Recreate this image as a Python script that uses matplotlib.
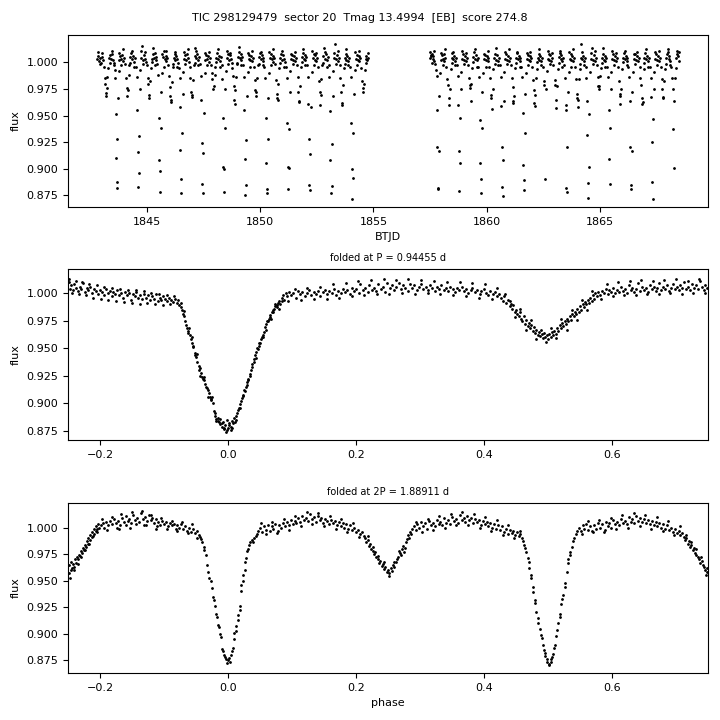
"""TESS light curve of TIC 298129479 (sector 20): raw flux plus folds at P and 2P.

Points below were read off the reference figure by eye, panel by panel.
"""

import matplotlib

matplotlib.use("Agg")

import matplotlib.pyplot as plt  # noqa: E402
import numpy as np  # noqa: E402

# --------------------------------------------------------------------------- #
# Data (BTJD, flux) -- first orbit of sector 20
# --------------------------------------------------------------------------- #

RAW_ORBIT1 = [
    (1842.81, 1.003), (1842.84, 1.006), (1842.88, 1.001), (1842.93, 1.004), (1842.97, 0.999),
    (1843.02, 1.005), (1843.06, 1.002), (1843.10, 0.996), (1843.15, 0.985), (1843.17, 0.980),
    (1843.19, 0.971), (1843.21, 0.968), (1843.23, 0.976), (1843.26, 0.986), (1843.30, 0.995),
    (1843.34, 1.004), (1843.38, 1.007), (1843.42, 1.003), (1843.46, 1.008), (1843.50, 1.002),
    (1843.55, 0.999), (1843.59, 0.993), (1843.61, 0.985), (1843.63, 0.951), (1843.65, 0.910),
    (1843.67, 0.882), (1843.69, 0.888), (1843.71, 0.928), (1843.73, 0.966),
    (1843.76, 0.992), (1843.80, 1.002), (1843.84, 1.006), (1843.88, 1.003), (1843.92, 1.007),
    (1843.96, 1.001), (1844.00, 1.004), (1844.04, 0.998), (1844.09, 0.985), (1844.12, 0.976),
    (1844.14, 0.968), (1844.17, 0.974), (1844.20, 0.988), (1844.24, 0.997), (1844.28, 1.005),
    (1844.32, 1.009), (1844.36, 1.003), (1844.40, 1.006), (1844.44, 1.000), (1844.48, 1.004),
    (1844.52, 0.996), (1844.56, 0.986), (1844.58, 0.955), (1844.60, 0.916), (1844.62, 0.883),
    (1844.64, 0.896), (1844.66, 0.931), (1844.69, 0.975),
    (1844.72, 0.993), (1844.76, 1.004), (1844.80, 1.015), (1844.84, 1.002), (1844.88, 1.007),
    (1844.92, 1.003), (1844.96, 1.000), (1845.00, 0.997), (1845.04, 0.985), (1845.07, 0.980),
    (1845.09, 0.969), (1845.12, 0.966), (1845.15, 0.982), (1845.19, 0.995), (1845.23, 1.003),
    (1845.27, 1.008), (1845.31, 1.004), (1845.35, 1.009), (1845.39, 1.002), (1845.43, 1.005),
    (1845.47, 0.998), (1845.50, 0.988), (1845.53, 0.948), (1845.55, 0.908), (1845.57, 0.878),
    (1845.59, 0.898), (1845.61, 0.938), (1845.64, 0.972),
    (1845.67, 0.990), (1845.71, 1.005), (1845.75, 1.011), (1845.79, 1.003), (1845.83, 1.006),
    (1845.87, 1.001), (1845.91, 1.004), (1845.95, 0.997), (1845.99, 0.987), (1846.01, 0.977),
    (1846.03, 0.968), (1846.05, 0.963), (1846.08, 0.965), (1846.11, 0.981), (1846.15, 0.996),
    (1846.19, 1.004), (1846.23, 1.008), (1846.27, 1.002), (1846.31, 1.006), (1846.35, 1.003),
    (1846.39, 0.999), (1846.43, 0.995), (1846.45, 0.985), (1846.47, 0.958), (1846.49, 0.918),
    (1846.51, 0.877), (1846.53, 0.890), (1846.55, 0.934), (1846.58, 0.970),
    (1846.61, 0.991), (1846.65, 1.003), (1846.69, 1.007), (1846.73, 1.002), (1846.77, 1.008),
    (1846.81, 1.004), (1846.85, 1.000), (1846.89, 0.996), (1846.93, 0.985), (1846.96, 0.972),
    (1846.98, 0.967), (1847.00, 0.969), (1847.03, 0.983), (1847.07, 0.997), (1847.11, 1.006),
    (1847.15, 1.013), (1847.19, 1.004), (1847.23, 1.008), (1847.27, 1.002), (1847.31, 1.005),
    (1847.35, 0.998), (1847.39, 0.987), (1847.41, 0.965), (1847.43, 0.924), (1847.45, 0.886),
    (1847.47, 0.877), (1847.49, 0.915), (1847.51, 0.952),
    (1847.55, 0.990), (1847.59, 1.002), (1847.63, 1.007), (1847.67, 1.003), (1847.71, 1.006),
    (1847.75, 1.000), (1847.79, 1.004), (1847.83, 0.997), (1847.87, 0.990), (1847.90, 0.984),
    (1847.93, 0.975), (1847.96, 0.978), (1847.99, 0.988), (1848.03, 0.996), (1848.07, 1.004),
    (1848.11, 1.009), (1848.15, 1.003), (1848.19, 1.006), (1848.23, 1.001), (1848.27, 1.005),
    (1848.31, 0.997), (1848.34, 0.984), (1848.36, 0.948), (1848.38, 0.902), (1848.40, 0.878),
    (1848.42, 0.900), (1848.44, 0.938), (1848.47, 0.975),
    (1848.50, 0.992), (1848.54, 1.004), (1848.58, 1.008), (1848.62, 1.002), (1848.66, 1.007),
    (1848.70, 1.003), (1848.74, 0.999), (1848.78, 0.995), (1848.82, 0.987), (1848.84, 0.978),
    (1848.86, 0.965), (1848.88, 0.961), (1848.91, 0.974), (1848.94, 0.986), (1848.98, 0.998),
    (1849.02, 1.005), (1849.06, 1.010), (1849.10, 1.004), (1849.14, 1.008), (1849.18, 1.002),
    (1849.22, 1.005), (1849.26, 0.997), (1849.28, 0.986), (1849.31, 0.955), (1849.33, 0.909),
    (1849.35, 0.875), (1849.37, 0.885), (1849.39, 0.927), (1849.42, 0.968),
    (1849.45, 0.991), (1849.49, 1.003), (1849.53, 1.007), (1849.57, 1.002), (1849.61, 1.006),
    (1849.65, 1.001), (1849.69, 1.004), (1849.73, 0.996), (1849.77, 0.983), (1849.79, 0.974),
    (1849.82, 0.968), (1849.84, 0.972), (1849.87, 0.985), (1849.91, 0.997), (1849.95, 1.005),
    (1849.99, 1.009), (1850.03, 1.003), (1850.07, 1.007), (1850.11, 1.001), (1850.15, 1.004),
    (1850.19, 0.996), (1850.22, 0.985), (1850.25, 0.948), (1850.27, 0.905), (1850.29, 0.877),
    (1850.31, 0.881), (1850.33, 0.928), (1850.36, 0.966),
    (1850.39, 0.990), (1850.43, 1.004), (1850.47, 1.008), (1850.51, 1.003), (1850.55, 1.006),
    (1850.59, 1.000), (1850.63, 1.004), (1850.67, 0.998), (1850.71, 0.983), (1850.74, 0.970),
    (1850.76, 0.966), (1850.78, 0.965), (1850.81, 0.980), (1850.85, 0.995), (1850.89, 1.004),
    (1850.93, 1.008), (1850.97, 1.002), (1851.01, 1.007), (1851.05, 1.003), (1851.09, 1.000),
    (1851.13, 0.996), (1851.17, 0.985), (1851.20, 0.943), (1851.22, 0.902), (1851.24, 0.881),
    (1851.26, 0.901), (1851.28, 0.937), (1851.31, 0.972),
    (1851.34, 0.992), (1851.38, 1.003), (1851.42, 1.007), (1851.46, 1.002), (1851.50, 1.006),
    (1851.54, 1.001), (1851.58, 1.004), (1851.62, 0.997), (1851.66, 0.986), (1851.68, 0.972),
    (1851.71, 0.964), (1851.73, 0.963), (1851.76, 0.978), (1851.80, 0.996), (1851.84, 1.005),
    (1851.88, 1.009), (1851.92, 1.003), (1851.96, 1.007), (1852.00, 1.002), (1852.04, 1.005),
    (1852.08, 0.997), (1852.11, 0.986), (1852.13, 0.961), (1852.15, 0.928), (1852.17, 0.885),
    (1852.19, 0.880), (1852.21, 0.914), (1852.24, 0.958),
    (1852.28, 0.991), (1852.32, 1.004), (1852.36, 1.008), (1852.40, 1.002), (1852.44, 1.007),
    (1852.48, 1.001), (1852.52, 1.004), (1852.56, 0.996), (1852.59, 0.982), (1852.62, 0.972),
    (1852.65, 0.960), (1852.67, 0.969), (1852.70, 0.984), (1852.74, 0.997), (1852.78, 1.006),
    (1852.82, 1.013), (1852.86, 1.003), (1852.90, 1.008), (1852.94, 1.002), (1852.98, 1.005),
    (1853.02, 0.997), (1853.06, 0.986), (1853.08, 0.954), (1853.10, 0.908), (1853.13, 0.877),
    (1853.15, 0.884), (1853.17, 0.923), (1853.20, 0.968),
    (1853.23, 0.992), (1853.27, 1.004), (1853.31, 1.017), (1853.35, 1.003), (1853.39, 1.007),
    (1853.43, 1.001), (1853.47, 1.004), (1853.51, 0.997), (1853.54, 0.985), (1853.57, 0.972),
    (1853.60, 0.960), (1853.62, 0.962), (1853.65, 0.979), (1853.69, 0.995), (1853.73, 1.004),
    (1853.77, 1.008), (1853.81, 1.002), (1853.85, 1.006), (1853.89, 1.001), (1853.93, 1.004),
    (1853.97, 0.996), (1854.00, 0.986), (1854.02, 0.943), (1854.04, 0.900), (1854.07, 0.872),
    (1854.09, 0.891), (1854.11, 0.934), (1854.14, 0.970),
    (1854.18, 0.993), (1854.22, 1.003), (1854.26, 1.007), (1854.30, 1.002), (1854.34, 1.006),
    (1854.38, 1.001), (1854.42, 1.004), (1854.46, 0.995), (1854.49, 0.982), (1854.52, 0.976),
    (1854.54, 0.972), (1854.57, 0.980), (1854.61, 0.993), (1854.65, 1.003), (1854.69, 1.006),
    (1854.73, 1.002), (1854.77, 1.004),
]

# second orbit
RAW_ORBIT2 = [
    (1857.49, 1.004), (1857.52, 1.007), (1857.55, 1.006), (1857.58, 1.008), (1857.61, 1.003),
    (1857.64, 1.006), (1857.68, 1.001), (1857.72, 0.998), (1857.76, 0.993), (1857.78, 0.987),
    (1857.80, 0.955), (1857.82, 0.920), (1857.84, 0.882), (1857.86, 0.881), (1857.88, 0.917),
    (1857.90, 0.968),
    (1857.93, 0.990), (1857.97, 1.002), (1858.01, 1.007), (1858.05, 1.003), (1858.09, 1.008),
    (1858.13, 1.001), (1858.17, 1.004), (1858.21, 0.996), (1858.26, 0.984), (1858.29, 0.979),
    (1858.31, 0.966), (1858.33, 0.960), (1858.36, 0.975), (1858.40, 0.994), (1858.44, 1.004),
    (1858.48, 1.009), (1858.52, 1.003), (1858.56, 1.006), (1858.60, 1.001), (1858.64, 1.004),
    (1858.68, 0.997), (1858.72, 0.987), (1858.74, 0.960), (1858.76, 0.917), (1858.78, 0.879),
    (1858.80, 0.905), (1858.82, 0.948), (1858.85, 0.975),
    (1858.88, 0.991), (1858.92, 1.003), (1858.96, 1.008), (1859.00, 1.002), (1859.04, 1.006),
    (1859.08, 1.001), (1859.12, 1.004), (1859.16, 0.997), (1859.21, 0.985), (1859.24, 0.979),
    (1859.26, 0.976), (1859.28, 0.964), (1859.31, 0.980), (1859.35, 0.995), (1859.39, 1.005),
    (1859.43, 1.010), (1859.47, 1.003), (1859.51, 1.007), (1859.55, 1.002), (1859.59, 1.004),
    (1859.63, 0.996), (1859.67, 0.986), (1859.69, 0.946), (1859.71, 0.905), (1859.73, 0.877),
    (1859.75, 0.890), (1859.77, 0.938), (1859.80, 0.972),
    (1859.83, 0.990), (1859.87, 1.003), (1859.91, 1.007), (1859.95, 1.002), (1859.99, 1.006),
    (1860.03, 1.001), (1860.07, 1.004), (1860.11, 0.996), (1860.15, 0.985), (1860.18, 0.969),
    (1860.20, 0.966), (1860.22, 0.956), (1860.25, 0.975), (1860.29, 0.994), (1860.33, 1.004),
    (1860.37, 1.008), (1860.41, 1.002), (1860.45, 1.007), (1860.49, 1.001), (1860.53, 1.004),
    (1860.57, 0.997), (1860.61, 0.986), (1860.63, 0.959), (1860.65, 0.920), (1860.67, 0.883),
    (1860.69, 0.874), (1860.71, 0.908), (1860.74, 0.964),
    (1860.77, 0.991), (1860.81, 1.003), (1860.85, 1.008), (1860.89, 1.002), (1860.93, 1.006),
    (1860.97, 1.001), (1861.01, 1.004), (1861.05, 0.997), (1861.10, 0.985), (1861.13, 0.977),
    (1861.15, 0.964), (1861.17, 0.962), (1861.20, 0.968), (1861.24, 0.995), (1861.28, 1.004),
    (1861.32, 1.009), (1861.36, 1.003), (1861.40, 1.006), (1861.44, 1.001), (1861.48, 1.004),
    (1861.52, 0.996), (1861.56, 0.986), (1861.58, 0.952), (1861.60, 0.904), (1861.62, 0.880),
    (1861.64, 0.889), (1861.66, 0.934), (1861.69, 0.970),
    (1861.72, 0.990), (1861.76, 1.003), (1861.80, 1.007), (1861.84, 1.002), (1861.88, 1.006),
    (1861.92, 1.001), (1861.96, 1.004), (1862.00, 0.996), (1862.04, 0.983), (1862.07, 0.974),
    (1862.09, 0.962), (1862.11, 0.959), (1862.14, 0.969), (1862.17, 0.985), (1862.20, 0.994),
    (1862.24, 1.004), (1862.28, 1.008), (1862.32, 1.002), (1862.36, 1.006), (1862.40, 1.001),
    (1862.44, 1.004), (1862.48, 0.996), (1862.50, 0.982), (1862.53, 0.979), (1862.57, 0.890),
    (1862.61, 0.975),
    (1862.64, 0.992), (1862.68, 1.003), (1862.72, 1.008), (1862.76, 1.002), (1862.80, 1.007),
    (1862.84, 1.001), (1862.88, 1.004), (1862.92, 0.997), (1862.99, 0.983), (1863.01, 0.979),
    (1863.04, 0.965), (1863.06, 0.957), (1863.09, 0.978), (1863.13, 0.994), (1863.17, 1.005),
    (1863.21, 1.009), (1863.25, 1.003), (1863.29, 1.007), (1863.33, 1.001), (1863.37, 1.004),
    (1863.41, 0.997), (1863.45, 0.985), (1863.47, 0.960), (1863.49, 0.955), (1863.51, 0.882),
    (1863.53, 0.878), (1863.55, 0.920), (1863.58, 0.972),
    (1863.61, 0.991), (1863.65, 1.003), (1863.69, 1.008), (1863.73, 1.002), (1863.77, 1.006),
    (1863.81, 1.001), (1863.85, 1.004), (1863.89, 0.996), (1863.93, 0.984), (1863.96, 0.970),
    (1863.98, 0.966), (1864.00, 0.958), (1864.03, 0.965), (1864.06, 0.984), (1864.09, 0.994),
    (1864.13, 1.004), (1864.17, 1.017), (1864.21, 1.003), (1864.25, 1.006), (1864.29, 1.001),
    (1864.33, 1.004), (1864.37, 0.996), (1864.39, 0.985), (1864.41, 0.964), (1864.43, 0.932),
    (1864.45, 0.887), (1864.47, 0.8725), (1864.49, 0.902), (1864.52, 0.951),
    (1864.56, 0.991), (1864.60, 1.003), (1864.64, 1.013), (1864.68, 1.002), (1864.72, 1.007),
    (1864.76, 1.001), (1864.80, 1.004), (1864.84, 0.997), (1864.88, 0.986), (1864.91, 0.978),
    (1864.93, 0.975), (1864.96, 0.978), (1864.99, 0.987), (1865.03, 0.995), (1865.07, 1.004),
    (1865.11, 1.008), (1865.15, 1.002), (1865.19, 1.006), (1865.23, 1.001), (1865.27, 1.004),
    (1865.31, 0.996), (1865.34, 0.986), (1865.37, 0.955), (1865.39, 0.909), (1865.41, 0.886),
    (1865.43, 0.938), (1865.46, 0.975),
    (1865.49, 0.991), (1865.53, 1.003), (1865.57, 1.008), (1865.61, 1.002), (1865.65, 1.006),
    (1865.69, 1.001), (1865.73, 1.004), (1865.77, 0.996), (1865.82, 0.982), (1865.85, 0.970),
    (1865.87, 0.968), (1865.89, 0.961), (1865.92, 0.975), (1865.96, 0.994), (1866.00, 1.004),
    (1866.04, 1.009), (1866.08, 1.003), (1866.12, 1.006), (1866.16, 1.001), (1866.20, 1.004),
    (1866.24, 0.996), (1866.28, 0.986), (1866.31, 0.964), (1866.33, 0.920), (1866.35, 0.881),
    (1866.37, 0.885), (1866.39, 0.917), (1866.42, 0.972),
    (1866.45, 0.991), (1866.49, 1.003), (1866.53, 1.008), (1866.57, 1.002), (1866.61, 1.006),
    (1866.65, 1.001), (1866.69, 1.004), (1866.73, 0.996), (1866.77, 0.985), (1866.80, 0.979),
    (1866.82, 0.966), (1866.84, 0.961), (1866.87, 0.963), (1866.91, 0.994), (1866.95, 1.004),
    (1866.99, 1.009), (1867.03, 1.003), (1867.07, 1.006), (1867.11, 1.001), (1867.15, 1.004),
    (1867.19, 0.996), (1867.23, 0.985), (1867.25, 0.967), (1867.27, 0.925), (1867.29, 0.8875),
    (1867.31, 0.8716), (1867.33, 0.947), (1867.36, 0.975),
    (1867.39, 0.991), (1867.43, 1.003), (1867.47, 1.008), (1867.51, 1.002), (1867.55, 1.006),
    (1867.59, 1.001), (1867.63, 1.004), (1867.67, 0.996), (1867.71, 0.984), (1867.74, 0.975),
    (1867.76, 0.967), (1867.78, 0.966), (1867.81, 0.982), (1867.85, 0.994), (1867.89, 1.004),
    (1867.93, 1.008), (1867.97, 1.012), (1868.01, 1.003), (1868.05, 1.006), (1868.09, 1.001),
    (1868.13, 0.996), (1868.17, 0.985), (1868.19, 0.975), (1868.21, 0.937), (1868.23, 0.901),
    (1868.26, 0.964), (1868.28, 0.985), (1868.32, 0.995), (1868.36, 1.004), (1868.40, 1.008),
    (1868.44, 1.006), (1868.47, 1.010),
]

# out-of-eclipse points at the upper / lower edge of the raw band
RAW_BAND_EDGE = [
    (1842.86, 1.010), (1842.95, 0.998), (1843.04, 1.009), (1843.40, 0.999), (1843.48, 1.011),
    (1843.57, 0.997), (1843.80, 1.009), (1843.88, 0.997), (1843.97, 1.012), (1844.28, 0.999),
    (1844.35, 1.011), (1844.44, 0.996), (1844.74, 1.011), (1844.82, 0.998), (1844.91, 1.010),
    (1845.22, 1.000), (1845.29, 1.013), (1845.38, 0.997), (1845.69, 1.008), (1845.77, 0.996),
    (1845.86, 1.011), (1846.17, 0.998), (1846.24, 1.010), (1846.33, 0.996), (1846.63, 1.010),
    (1846.71, 0.998), (1846.80, 1.012), (1847.11, 0.999), (1847.18, 1.011), (1847.27, 0.997),
    (1847.58, 1.009), (1847.66, 0.997), (1847.75, 1.010), (1848.06, 1.000), (1848.13, 1.012),
    (1848.22, 0.996), (1848.52, 1.011), (1848.60, 0.998), (1848.69, 1.009), (1849.00, 0.999),
    (1849.07, 1.014), (1849.16, 0.997), (1849.47, 1.009), (1849.55, 0.996), (1849.64, 1.011),
    (1849.95, 0.998), (1850.02, 1.010), (1850.11, 0.997), (1850.41, 1.010), (1850.49, 0.997),
    (1850.58, 1.012), (1850.89, 0.999), (1850.96, 1.011), (1851.05, 0.996), (1851.36, 1.008),
    (1851.44, 0.998), (1851.53, 1.010), (1851.84, 1.000), (1851.91, 1.012), (1852.00, 0.997),
    (1852.30, 1.011), (1852.38, 0.997), (1852.47, 1.009), (1852.78, 0.999), (1852.85, 1.010),
    (1852.94, 0.996), (1853.25, 1.009), (1853.33, 0.998), (1853.42, 1.011), (1853.73, 0.998),
    (1853.80, 1.012), (1853.89, 0.997), (1854.19, 1.010), (1854.27, 0.997), (1854.36, 1.011),
    (1854.67, 0.999), (1854.75, 1.009),
    (1857.50, 1.010), (1857.57, 0.999), (1857.66, 1.011), (1857.97, 1.009), (1858.05, 0.997),
    (1858.14, 1.012), (1858.45, 0.999), (1858.52, 1.010), (1858.61, 0.997), (1858.91, 1.011),
    (1858.99, 0.998), (1859.08, 1.009), (1859.39, 1.000), (1859.46, 1.012), (1859.55, 0.996),
    (1859.86, 1.008), (1859.94, 0.996), (1860.03, 1.011), (1860.34, 0.998), (1860.41, 1.013),
    (1860.50, 0.997), (1860.80, 1.010), (1860.88, 0.998), (1860.97, 1.012), (1861.28, 0.999),
    (1861.35, 1.010), (1861.44, 0.996), (1861.75, 1.009), (1861.83, 0.997), (1861.92, 1.010),
    (1862.23, 1.000), (1862.30, 1.012), (1862.39, 0.997), (1862.69, 1.011), (1862.77, 0.998),
    (1862.86, 1.009), (1863.17, 0.999), (1863.24, 1.011), (1863.33, 0.996), (1863.64, 1.010),
    (1863.72, 0.996), (1863.81, 1.012), (1864.12, 0.998), (1864.19, 1.010), (1864.28, 0.997),
    (1864.58, 1.009), (1864.66, 0.998), (1864.75, 1.011), (1865.06, 0.999), (1865.13, 1.013),
    (1865.22, 0.996), (1865.53, 1.011), (1865.61, 0.997), (1865.70, 1.009), (1866.01, 1.000),
    (1866.08, 1.011), (1866.17, 0.997), (1866.47, 1.008), (1866.55, 0.998), (1866.64, 1.010),
    (1866.95, 0.999), (1867.02, 1.012), (1867.11, 0.996), (1867.42, 1.010), (1867.50, 0.997),
    (1867.59, 1.011), (1867.90, 0.998), (1867.97, 1.010), (1868.06, 0.997), (1868.38, 1.011),
    (1868.45, 1.001),
]

# (phase, flux) folded at P = 0.94455 d
FOLD_P = [
    (-0.249, 1.010), (-0.247, 1.004), (-0.245, 1.007), (-0.242, 1.003), (-0.240, 1.008),
    (-0.237, 1.005), (-0.235, 1.002), (-0.232, 1.006), (-0.229, 1.004), (-0.226, 1.009),
    (-0.224, 1.001), (-0.221, 1.005), (-0.218, 1.003), (-0.215, 1.006), (-0.212, 1.000),
    (-0.209, 1.004), (-0.206, 1.002), (-0.203, 0.999), (-0.200, 1.003), (-0.197, 1.001),
    (-0.194, 0.998), (-0.191, 1.004), (-0.188, 1.000), (-0.185, 1.002), (-0.182, 0.997),
    (-0.179, 1.001), (-0.176, 0.999), (-0.173, 1.003), (-0.170, 0.998), (-0.167, 1.000),
    (-0.164, 0.996), (-0.161, 1.001), (-0.158, 0.998), (-0.155, 1.000), (-0.152, 0.994),
    (-0.149, 0.999), (-0.146, 0.997), (-0.143, 1.001), (-0.140, 0.996), (-0.137, 0.998),
    (-0.134, 0.995), (-0.131, 0.999), (-0.128, 0.996), (-0.125, 0.998), (-0.122, 0.994),
    (-0.119, 0.997), (-0.116, 0.995), (-0.113, 0.999), (-0.110, 0.993), (-0.107, 0.996),
    (-0.104, 0.994), (-0.101, 0.997), (-0.098, 0.995), (-0.095, 0.993), (-0.092, 0.996),
    (-0.089, 0.994), (-0.086, 0.992), (-0.083, 0.995), (-0.080, 0.991),
    (-0.078, 0.994), (-0.076, 0.989), (-0.074, 0.987), (-0.072, 0.985), (-0.070, 0.981),
    (-0.068, 0.979), (-0.066, 0.971), (-0.064, 0.968), (-0.062, 0.964), (-0.060, 0.962),
    (-0.058, 0.958), (-0.056, 0.955), (-0.054, 0.951), (-0.052, 0.946), (-0.050, 0.942),
    (-0.048, 0.938), (-0.046, 0.934), (-0.044, 0.932), (-0.042, 0.928), (-0.040, 0.924),
    (-0.038, 0.921), (-0.036, 0.918), (-0.034, 0.915), (-0.032, 0.912), (-0.030, 0.909),
    (-0.028, 0.906), (-0.026, 0.903), (-0.024, 0.900), (-0.022, 0.893), (-0.020, 0.889),
    (-0.018, 0.886), (-0.016, 0.884), (-0.014, 0.883), (-0.012, 0.881), (-0.010, 0.879),
    (-0.008, 0.883), (-0.006, 0.877), (-0.004, 0.880), (-0.002, 0.876), (0.000, 0.878),
    (-0.069, 0.984), (-0.063, 0.966), (-0.057, 0.960), (-0.051, 0.944), (-0.045, 0.930),
    (-0.039, 0.922), (-0.033, 0.914), (-0.027, 0.904), (-0.021, 0.891), (-0.015, 0.887),
    (-0.009, 0.882), (-0.003, 0.874), (-0.001, 0.885),
    (0.002, 0.880), (0.004, 0.876), (0.006, 0.884), (0.008, 0.882), (0.010, 0.887),
    (0.012, 0.885), (0.014, 0.891), (0.016, 0.894), (0.018, 0.899), (0.020, 0.902),
    (0.022, 0.905), (0.024, 0.908), (0.026, 0.911), (0.028, 0.915), (0.030, 0.919),
    (0.032, 0.922), (0.034, 0.925), (0.036, 0.930), (0.038, 0.936), (0.040, 0.940),
    (0.042, 0.944), (0.044, 0.947), (0.046, 0.950), (0.048, 0.952), (0.050, 0.955),
    (0.052, 0.958), (0.054, 0.962), (0.056, 0.965), (0.058, 0.969), (0.060, 0.972),
    (0.062, 0.975), (0.064, 0.977), (0.066, 0.980), (0.068, 0.983), (0.070, 0.985),
    (0.072, 0.986), (0.074, 0.988), (0.076, 0.989), (0.078, 0.991), (0.080, 0.993),
    (0.082, 0.990), (0.084, 0.996), (0.086, 0.998), (0.088, 0.994), (0.090, 1.000),
    (0.005, 0.879), (0.011, 0.883), (0.017, 0.896), (0.023, 0.907), (0.029, 0.917),
    (0.035, 0.927), (0.041, 0.938), (0.047, 0.949), (0.053, 0.960), (0.059, 0.967),
    (0.065, 0.978), (0.071, 0.983), (0.077, 0.987),
    (0.092, 0.997), (0.095, 1.001), (0.099, 0.998), (0.102, 1.000), (0.106, 0.996),
    (0.109, 1.002), (0.113, 0.999), (0.116, 1.001), (0.120, 0.997), (0.123, 1.000),
    (0.127, 1.003), (0.130, 0.998), (0.134, 1.001), (0.137, 0.999), (0.141, 1.002),
    (0.144, 0.997), (0.148, 1.001), (0.151, 1.003), (0.155, 0.999), (0.158, 1.002),
    (0.162, 1.000), (0.165, 1.004), (0.169, 0.998), (0.172, 1.002), (0.176, 1.000),
    (0.179, 1.004), (0.183, 1.001), (0.186, 1.003), (0.190, 0.999), (0.193, 1.005),
    (0.197, 1.002), (0.200, 1.004), (0.204, 1.000), (0.207, 1.008), (0.211, 1.003),
    (0.214, 1.005), (0.218, 1.001), (0.221, 1.007), (0.225, 1.003), (0.228, 1.005),
    (0.232, 1.002), (0.235, 1.008), (0.239, 1.004), (0.242, 1.006), (0.246, 1.001),
    (0.249, 1.009), (0.253, 1.005), (0.256, 1.007), (0.260, 1.003), (0.263, 1.006),
    (0.267, 1.009), (0.270, 1.004), (0.274, 1.007), (0.277, 1.005), (0.281, 1.002),
    (0.284, 1.008), (0.288, 1.005), (0.291, 1.007), (0.295, 1.003), (0.298, 1.006),
    (0.302, 1.008), (0.305, 1.004), (0.309, 1.006), (0.312, 1.003), (0.316, 1.007),
    (0.319, 1.005), (0.323, 1.002), (0.326, 1.006), (0.330, 1.004), (0.333, 1.007),
    (0.337, 1.003), (0.340, 1.005), (0.344, 1.002), (0.347, 1.006), (0.351, 1.004),
    (0.354, 1.001), (0.358, 1.005), (0.361, 1.003), (0.365, 1.006), (0.368, 1.002),
    (0.372, 1.004), (0.375, 1.000), (0.379, 1.003), (0.382, 1.005), (0.386, 1.001),
    (0.389, 1.003), (0.393, 0.999), (0.396, 1.002), (0.400, 1.004), (0.403, 1.000),
    (0.407, 0.998), (0.410, 1.002), (0.414, 0.999), (0.417, 1.001), (0.421, 0.997),
    (0.424, 0.999),
    (0.427, 0.996), (0.430, 0.993), (0.432, 0.997), (0.435, 0.991), (0.437, 0.994),
    (0.440, 0.988), (0.442, 0.990), (0.444, 0.986), (0.446, 0.989), (0.448, 0.983),
    (0.450, 0.985), (0.452, 0.981), (0.454, 0.979), (0.456, 0.983), (0.458, 0.977),
    (0.460, 0.975), (0.462, 0.979), (0.464, 0.972), (0.466, 0.976), (0.468, 0.970),
    (0.470, 0.973), (0.472, 0.968), (0.474, 0.971), (0.476, 0.966), (0.478, 0.969),
    (0.480, 0.964), (0.482, 0.967), (0.484, 0.962), (0.486, 0.965), (0.488, 0.961),
    (0.490, 0.963), (0.492, 0.959), (0.494, 0.964), (0.496, 0.960), (0.498, 0.962),
    (0.500, 0.958), (0.502, 0.963), (0.504, 0.960), (0.506, 0.965), (0.508, 0.962),
    (0.510, 0.966), (0.512, 0.963), (0.514, 0.968), (0.516, 0.966), (0.518, 0.971),
    (0.520, 0.968), (0.522, 0.973), (0.524, 0.970), (0.526, 0.975), (0.528, 0.972),
    (0.530, 0.977), (0.532, 0.975), (0.534, 0.979), (0.536, 0.976), (0.538, 0.981),
    (0.540, 0.979), (0.542, 0.983), (0.544, 0.981), (0.546, 0.986), (0.548, 0.983),
    (0.550, 0.988), (0.552, 0.985), (0.554, 0.990), (0.556, 0.987), (0.558, 0.992),
    (0.560, 0.990), (0.562, 0.994), (0.564, 0.991), (0.566, 0.996), (0.568, 0.993),
    (0.570, 0.998), (0.572, 0.995), (0.574, 1.000), (0.576, 0.997), (0.578, 1.001),
    (0.581, 0.998), (0.584, 1.002), (0.587, 1.000), (0.590, 1.004), (0.593, 0.999),
    (0.596, 1.003), (0.599, 1.001), (0.602, 1.005), (0.605, 1.000), (0.608, 1.003),
    (0.611, 1.001), (0.614, 1.006), (0.617, 1.002), (0.620, 1.004), (0.623, 1.000),
    (0.626, 1.007), (0.629, 1.003), (0.632, 1.005), (0.635, 1.001), (0.638, 1.004),
    (0.641, 1.009), (0.644, 1.002), (0.647, 1.006), (0.650, 1.003), (0.653, 1.005),
    (0.656, 1.001), (0.659, 1.007), (0.662, 1.004), (0.665, 1.006), (0.668, 1.002),
    (0.671, 1.005), (0.674, 1.009), (0.677, 1.003), (0.680, 1.006), (0.683, 1.004),
    (0.686, 1.007), (0.689, 1.002), (0.692, 1.005), (0.695, 1.008), (0.698, 1.004),
    (0.701, 1.006), (0.704, 1.003), (0.707, 1.007), (0.710, 1.005), (0.713, 1.010),
    (0.716, 1.004), (0.719, 1.006), (0.722, 1.003), (0.725, 1.008), (0.728, 1.005),
    (0.731, 1.007), (0.734, 1.004), (0.737, 1.011), (0.740, 1.006), (0.743, 1.003),
    (0.746, 1.007), (0.749, 1.005),
]

# wider-scatter points of the P fold
FOLD_P_EDGE = [
    (-0.248, 1.013), (-0.243, 1.000), (-0.238, 1.011), (-0.233, 0.999), (-0.228, 1.010),
    (-0.222, 0.998), (-0.217, 1.008), (-0.211, 0.996), (-0.205, 1.007), (-0.199, 0.995),
    (-0.193, 1.006), (-0.187, 0.994), (-0.181, 1.005), (-0.175, 0.993), (-0.169, 1.004),
    (-0.163, 0.992), (-0.157, 1.003), (-0.150, 0.991), (-0.144, 1.003), (-0.138, 0.990),
    (-0.132, 1.002), (-0.126, 0.991), (-0.120, 1.000), (-0.114, 0.990), (-0.108, 0.999),
    (-0.102, 0.989), (-0.096, 0.998), (-0.090, 0.990), (-0.084, 0.997),
    (-0.073, 0.991), (-0.067, 0.975), (-0.061, 0.968), (-0.055, 0.952), (-0.049, 0.945),
    (-0.043, 0.925), (-0.037, 0.924), (-0.031, 0.906), (-0.025, 0.906), (-0.019, 0.884),
    (-0.013, 0.886), (-0.007, 0.878), (0.001, 0.882), (0.007, 0.878), (0.013, 0.889),
    (0.019, 0.896), (0.025, 0.912), (0.031, 0.921), (0.037, 0.933), (0.043, 0.941),
    (0.049, 0.955), (0.055, 0.960), (0.061, 0.975), (0.067, 0.977), (0.073, 0.990),
    (0.079, 0.986), (0.085, 0.993),
    (0.094, 0.993), (0.104, 1.004), (0.114, 0.994), (0.124, 1.005), (0.134, 0.995),
    (0.144, 1.006), (0.154, 0.995), (0.164, 1.008), (0.174, 0.996), (0.184, 1.009),
    (0.194, 0.997), (0.203, 1.011), (0.213, 0.998), (0.223, 1.012), (0.233, 0.999),
    (0.243, 1.013), (0.252, 0.999), (0.262, 1.012), (0.272, 1.000), (0.282, 1.013),
    (0.292, 0.999), (0.302, 1.012), (0.312, 1.000), (0.322, 1.011), (0.332, 0.999),
    (0.342, 1.010), (0.352, 0.998), (0.362, 1.010), (0.372, 0.997), (0.382, 1.009),
    (0.392, 0.996), (0.402, 1.008), (0.412, 0.995), (0.420, 1.005),
    (0.433, 0.999), (0.441, 0.993), (0.449, 0.978), (0.457, 0.986), (0.465, 0.967),
    (0.473, 0.976), (0.481, 0.958), (0.489, 0.967), (0.497, 0.956), (0.505, 0.968),
    (0.513, 0.959), (0.521, 0.977), (0.529, 0.967), (0.537, 0.985), (0.545, 0.976),
    (0.553, 0.994), (0.561, 0.985), (0.569, 1.002),
    (0.583, 0.995), (0.592, 1.008), (0.601, 0.997), (0.610, 1.010), (0.619, 0.998),
    (0.628, 1.011), (0.637, 0.998), (0.646, 1.012), (0.655, 0.999), (0.664, 1.011),
    (0.673, 0.999), (0.682, 1.012), (0.691, 1.000), (0.700, 1.013), (0.709, 0.999),
    (0.718, 1.011), (0.727, 1.000), (0.736, 1.013), (0.745, 1.000),
]

# (phase, flux) folded at 2P = 1.88911 d
FOLD_2P = [
    (-0.249, 0.957), (-0.248, 0.965), (-0.246, 0.960), (-0.245, 0.968), (-0.243, 0.962),
    (-0.242, 0.966), (-0.240, 0.963), (-0.239, 0.970), (-0.237, 0.967), (-0.236, 0.972),
    (-0.234, 0.970), (-0.233, 0.974), (-0.231, 0.973), (-0.230, 0.978), (-0.228, 0.976),
    (-0.227, 0.981), (-0.225, 0.979), (-0.224, 0.984), (-0.222, 0.982), (-0.221, 0.987),
    (-0.219, 0.985), (-0.218, 0.990), (-0.216, 0.988), (-0.215, 0.993), (-0.213, 0.991),
    (-0.212, 0.996), (-0.210, 0.994), (-0.209, 0.999), (-0.207, 0.997), (-0.206, 1.001),
    (-0.204, 0.999), (-0.203, 1.003), (-0.201, 1.000),
    (-0.199, 1.002), (-0.196, 1.004), (-0.193, 1.000), (-0.190, 1.005), (-0.187, 1.002),
    (-0.184, 1.006), (-0.181, 1.003), (-0.178, 1.008), (-0.175, 1.004), (-0.172, 1.006),
    (-0.169, 1.002), (-0.166, 1.009), (-0.163, 1.005), (-0.160, 1.011), (-0.157, 1.006),
    (-0.154, 1.008), (-0.151, 1.004), (-0.148, 1.012), (-0.145, 1.007), (-0.142, 1.009),
    (-0.139, 1.005), (-0.136, 1.014), (-0.133, 1.008), (-0.130, 1.010), (-0.127, 1.006),
    (-0.124, 1.012), (-0.121, 1.007), (-0.118, 1.009), (-0.115, 1.004), (-0.112, 1.008),
    (-0.109, 1.005), (-0.106, 1.002), (-0.103, 1.006), (-0.100, 1.003), (-0.097, 1.005),
    (-0.094, 1.001), (-0.091, 1.004), (-0.088, 1.002), (-0.085, 1.003), (-0.082, 0.999),
    (-0.079, 1.002), (-0.076, 1.000), (-0.073, 1.003), (-0.070, 0.999), (-0.067, 1.001),
    (-0.064, 0.997), (-0.061, 1.000), (-0.058, 0.996), (-0.055, 0.999), (-0.052, 0.995),
    (-0.049, 0.997), (-0.046, 0.993), (-0.044, 0.991),
    (-0.171, 0.999), (-0.153, 1.000), (-0.131, 1.002), (-0.113, 0.999),
    (-0.042, 0.989), (-0.040, 0.986), (-0.038, 0.982), (-0.037, 0.979), (-0.035, 0.974),
    (-0.033, 0.965), (-0.031, 0.958), (-0.029, 0.953), (-0.027, 0.950), (-0.025, 0.943),
    (-0.023, 0.935), (-0.022, 0.932), (-0.020, 0.926), (-0.019, 0.919), (-0.017, 0.916),
    (-0.016, 0.908), (-0.014, 0.906), (-0.012, 0.900), (-0.011, 0.897), (-0.009, 0.886),
    (-0.008, 0.884), (-0.006, 0.880), (-0.005, 0.878), (-0.003, 0.876), (-0.001, 0.873),
    (0.000, 0.875), (0.002, 0.877), (0.003, 0.874), (0.005, 0.880), (0.006, 0.884),
    (0.008, 0.887), (0.009, 0.895), (0.010, 0.901), (0.012, 0.903), (0.013, 0.907),
    (0.015, 0.913), (0.016, 0.918), (0.018, 0.922), (0.019, 0.926), (0.020, 0.940),
    (0.021, 0.946), (0.023, 0.950), (0.024, 0.955), (0.026, 0.960), (0.027, 0.968),
    (0.028, 0.971), (0.030, 0.978), (0.031, 0.980), (0.033, 0.984), (0.035, 0.986),
    (0.037, 0.988), (0.039, 0.986), (0.041, 0.990), (0.043, 0.992), (0.045, 0.994),
    (0.047, 0.997), (0.050, 1.000), (0.053, 0.996), (0.056, 1.001), (0.059, 0.998),
    (0.062, 1.002), (0.065, 0.997), (0.068, 1.001), (0.071, 0.999), (0.074, 1.003),
    (0.077, 0.995), (0.080, 1.002), (0.083, 1.000), (0.086, 1.004), (0.089, 1.001),
    (0.092, 1.005), (0.095, 1.002), (0.098, 1.007), (0.101, 1.003), (0.104, 1.006),
    (0.107, 1.004), (0.110, 1.009), (0.113, 1.005), (0.116, 1.011), (0.119, 1.007),
    (0.122, 1.009), (0.125, 1.006), (0.128, 1.013), (0.131, 1.008), (0.134, 1.010),
    (0.137, 1.005), (0.140, 1.011), (0.143, 1.007), (0.146, 1.009), (0.149, 1.004),
    (0.152, 1.008), (0.155, 1.006), (0.158, 1.003), (0.161, 1.007), (0.164, 1.004),
    (0.167, 1.006), (0.170, 1.002), (0.173, 1.005), (0.176, 1.001), (0.179, 1.004),
    (0.182, 1.000), (0.185, 1.003), (0.188, 0.999), (0.191, 1.002), (0.194, 0.998),
    (0.197, 1.000), (0.200, 0.996), (0.203, 0.998), (0.206, 0.994), (0.209, 0.996),
    (0.212, 0.992),
    (0.214, 0.990), (0.216, 0.986), (0.218, 0.988), (0.220, 0.983), (0.222, 0.985),
    (0.224, 0.980), (0.226, 0.978), (0.228, 0.975), (0.230, 0.977), (0.232, 0.972),
    (0.234, 0.970), (0.236, 0.967), (0.238, 0.969), (0.240, 0.964), (0.242, 0.966),
    (0.244, 0.961), (0.246, 0.963), (0.248, 0.958), (0.250, 0.960), (0.252, 0.957),
    (0.254, 0.962), (0.256, 0.959), (0.258, 0.965), (0.260, 0.963), (0.262, 0.968),
    (0.264, 0.970), (0.266, 0.972), (0.268, 0.976), (0.270, 0.974), (0.272, 0.980),
    (0.274, 0.983), (0.276, 0.981), (0.278, 0.986), (0.280, 0.989), (0.282, 0.993),
    (0.284, 0.996), (0.286, 0.994), (0.288, 0.999),
    (0.290, 1.001), (0.293, 0.998), (0.296, 1.003), (0.299, 1.000), (0.302, 1.005),
    (0.305, 1.001), (0.308, 1.004), (0.311, 0.999), (0.314, 1.006), (0.317, 1.002),
    (0.320, 1.004), (0.323, 1.001), (0.326, 1.007), (0.329, 1.003), (0.332, 1.005),
    (0.335, 1.002), (0.338, 1.009), (0.341, 1.004), (0.344, 1.007), (0.347, 1.003),
    (0.350, 1.010), (0.353, 1.006), (0.356, 1.008), (0.359, 1.004), (0.362, 1.012),
    (0.365, 1.007), (0.368, 1.009), (0.371, 1.005), (0.374, 1.011), (0.377, 1.007),
    (0.380, 1.009), (0.383, 1.004), (0.386, 1.008), (0.389, 1.005), (0.392, 1.007),
    (0.395, 1.002), (0.398, 1.006), (0.401, 1.003), (0.404, 1.005), (0.407, 1.001),
    (0.410, 1.004), (0.413, 1.000), (0.416, 1.003), (0.419, 0.999), (0.422, 1.002),
    (0.425, 0.998), (0.428, 1.001), (0.431, 0.996), (0.434, 0.999), (0.437, 0.994),
    (0.440, 0.998), (0.443, 0.995), (0.446, 0.997), (0.449, 0.993), (0.452, 0.996),
    (0.455, 0.992), (0.457, 0.994),
    (0.459, 0.990), (0.461, 0.987), (0.462, 0.984), (0.464, 0.981), (0.466, 0.977),
    (0.468, 0.971), (0.470, 0.968), (0.471, 0.962), (0.473, 0.955), (0.474, 0.953),
    (0.476, 0.944), (0.477, 0.939), (0.479, 0.932), (0.480, 0.929), (0.482, 0.921),
    (0.484, 0.915), (0.485, 0.910), (0.487, 0.905), (0.489, 0.899), (0.490, 0.896),
    (0.492, 0.890), (0.493, 0.885), (0.495, 0.882), (0.496, 0.879), (0.498, 0.876),
    (0.499, 0.874), (0.501, 0.872), (0.502, 0.871), (0.504, 0.874), (0.505, 0.876),
    (0.507, 0.878), (0.508, 0.881), (0.510, 0.887), (0.511, 0.890), (0.513, 0.898),
    (0.514, 0.904), (0.516, 0.910), (0.518, 0.916), (0.519, 0.919), (0.521, 0.928),
    (0.522, 0.933), (0.524, 0.937), (0.526, 0.944), (0.527, 0.948), (0.529, 0.958),
    (0.531, 0.967), (0.532, 0.970), (0.534, 0.974), (0.535, 0.977), (0.537, 0.982),
    (0.539, 0.987), (0.541, 0.990), (0.543, 0.994), (0.545, 0.997),
    (0.548, 1.000), (0.551, 0.997), (0.554, 1.002), (0.557, 0.999), (0.560, 1.003),
    (0.563, 0.998), (0.566, 1.001), (0.569, 0.997), (0.572, 1.002), (0.575, 0.999),
    (0.578, 1.004), (0.581, 1.000), (0.584, 1.003), (0.587, 0.996), (0.590, 1.005),
    (0.593, 1.001), (0.596, 1.004), (0.599, 1.000), (0.602, 1.007), (0.605, 1.003),
    (0.608, 1.005), (0.611, 1.002), (0.614, 1.008), (0.617, 1.004), (0.620, 1.006),
    (0.623, 1.003), (0.626, 1.010), (0.629, 1.005), (0.632, 1.008), (0.635, 1.004),
    (0.638, 1.011), (0.641, 1.006), (0.644, 1.009), (0.647, 1.005), (0.650, 1.008),
    (0.653, 1.004), (0.656, 1.007), (0.659, 1.003), (0.662, 1.006), (0.665, 1.002),
    (0.668, 1.005), (0.671, 1.001), (0.674, 1.004), (0.677, 1.000), (0.680, 1.003),
    (0.683, 0.999), (0.686, 1.002), (0.689, 0.998), (0.692, 1.000), (0.695, 0.996),
    (0.698, 0.999), (0.701, 0.995), (0.704, 0.997), (0.707, 0.993), (0.710, 0.995),
    (0.712, 0.991), (0.714, 0.988), (0.716, 0.990), (0.718, 0.985), (0.720, 0.987),
    (0.722, 0.982), (0.724, 0.984), (0.726, 0.979), (0.728, 0.981), (0.730, 0.976),
    (0.732, 0.974), (0.734, 0.972), (0.736, 0.970), (0.738, 0.967), (0.740, 0.969),
    (0.742, 0.965), (0.744, 0.963), (0.746, 0.960), (0.748, 0.962), (0.749, 0.958),
]

# wider-scatter points of the 2P fold
FOLD_2P_EDGE = [
    (-0.247, 0.953), (-0.241, 0.960), (-0.235, 0.966), (-0.229, 0.972), (-0.223, 0.979),
    (-0.217, 0.985), (-0.211, 0.992), (-0.205, 0.996),
    (-0.197, 1.008), (-0.189, 0.998), (-0.182, 1.010), (-0.174, 1.000), (-0.167, 1.013),
    (-0.159, 1.002), (-0.150, 1.015), (-0.143, 1.003), (-0.135, 1.016), (-0.128, 1.002),
    (-0.120, 1.012), (-0.111, 1.001), (-0.104, 1.009), (-0.096, 0.999), (-0.088, 1.006),
    (-0.080, 0.997), (-0.072, 1.005), (-0.063, 0.995), (-0.056, 1.003), (-0.048, 0.990),
    (0.052, 1.004), (0.060, 0.994), (0.069, 1.005), (0.078, 0.997), (0.087, 1.008),
    (0.096, 0.998), (0.105, 1.011), (0.114, 1.001), (0.123, 1.015), (0.132, 1.003),
    (0.141, 1.014), (0.150, 1.001), (0.159, 1.011), (0.168, 0.999), (0.177, 1.008),
    (0.186, 0.996), (0.195, 1.004), (0.204, 0.991),
    (0.219, 0.992), (0.227, 0.982), (0.235, 0.973), (0.243, 0.968), (0.251, 0.954),
    (0.259, 0.968), (0.267, 0.978), (0.275, 0.977), (0.283, 0.990),
    (0.294, 1.005), (0.303, 0.996), (0.312, 1.008), (0.321, 0.998), (0.330, 1.011),
    (0.339, 1.000), (0.348, 1.013), (0.357, 1.002), (0.366, 1.015), (0.375, 1.002),
    (0.384, 1.013), (0.393, 1.000), (0.402, 1.010), (0.411, 0.997), (0.420, 1.007),
    (0.429, 0.993), (0.438, 1.002), (0.447, 0.990), (0.456, 0.997),
    (0.553, 0.994), (0.562, 1.006), (0.571, 0.996), (0.580, 1.007), (0.589, 0.998),
    (0.598, 1.009), (0.607, 0.999), (0.616, 1.012), (0.625, 1.000), (0.634, 1.014),
    (0.643, 1.001), (0.652, 1.012), (0.661, 0.999), (0.670, 1.010), (0.679, 0.997),
    (0.688, 1.006), (0.697, 0.993), (0.706, 1.001),
    (0.715, 0.993), (0.723, 0.986), (0.731, 0.980), (0.739, 0.972), (0.747, 0.955),
]

TITLE = "TIC 298129479  sector 20  Tmag 13.4994  [EB]  score 274.8"
FOLD_P_TITLE = "folded at P = 0.94455 d"
FOLD_2P_TITLE = "folded at 2P = 1.88911 d"
FLUX_TICKS = [0.875, 0.900, 0.925, 0.950, 0.975, 1.000]


def _xy(points):
    arr = np.asarray(points, dtype=float)
    return arr[:, 0], arr[:, 1]


def _style(ax):
    ax.tick_params(labelsize=8)
    ax.set_yticks(FLUX_TICKS)
    ax.set_ylabel("flux", fontsize=8)


def main():
    fig = plt.figure(figsize=(7.2, 7.2), dpi=100)
    left, width = 68 / 720, 640 / 720

    # raw light curve
    ax1 = fig.add_axes([left, 1 - 207 / 720, width, 172 / 720])
    t, f = _xy(RAW_ORBIT1 + RAW_ORBIT2 + RAW_BAND_EDGE)
    ax1.scatter(t, f, s=1, c="k")
    ax1.set_xlim(1841.53, 1869.75)
    ax1.set_ylim(0.8641, 1.0256)
    ax1.set_xlabel("BTJD", fontsize=8)
    _style(ax1)

    # fold at P
    ax2 = fig.add_axes([left, 1 - 440 / 720, width, 171 / 720])
    ph, f = _xy(FOLD_P + FOLD_P_EDGE)
    ax2.scatter(ph, f, s=1, c="k")
    ax2.set_xlim(-0.25, 0.75)
    ax2.set_ylim(0.8668, 1.0219)
    ax2.set_title(FOLD_P_TITLE, fontsize=7)
    _style(ax2)

    # fold at 2P
    ax3 = fig.add_axes([left, 1 - 673 / 720, width, 170 / 720])
    ph, f = _xy(FOLD_2P + FOLD_2P_EDGE)
    ax3.scatter(ph, f, s=1, c="k")
    ax3.set_xlim(-0.25, 0.75)
    ax3.set_ylim(0.8632, 1.0231)
    ax3.set_title(FOLD_2P_TITLE, fontsize=7)
    ax3.set_xlabel("phase", fontsize=8)
    _style(ax3)

    fig.text(0.5, 1 - 18 / 720, TITLE, ha="center", va="center", fontsize=8)
    fig.savefig("out.png", dpi=100, facecolor="white")
    plt.close(fig)


if __name__ == "__main__":
    main()
